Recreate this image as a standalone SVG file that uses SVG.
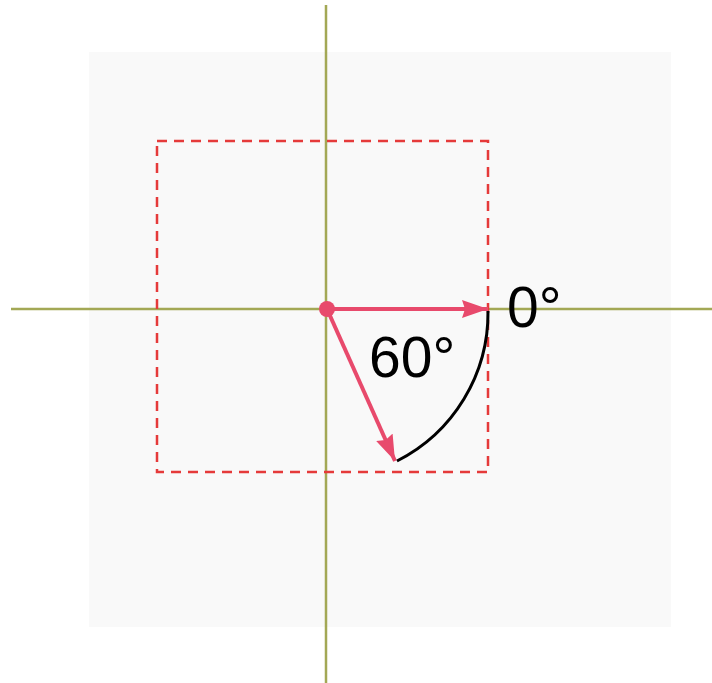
<svg xmlns="http://www.w3.org/2000/svg" width="712" height="683" viewBox="0 0 712 683">
  <style>
    .axis { stroke: #a3a855; stroke-width: 2.5; fill: none; }
    .frame { stroke: #e53a3a; stroke-width: 2.5; stroke-dasharray: 10 7; fill: none; }
    .vec { stroke: #e84a6c; stroke-width: 4; fill: none; }
    .arc { stroke: #000; stroke-width: 3; fill: none; }
    .lbl { font-family: "Liberation Sans", Arial, sans-serif; font-size: 57px; fill: #000; }
  </style>
  <defs>
    <marker id="ah" markerUnits="userSpaceOnUse" markerWidth="28" markerHeight="20" refX="26" refY="9" orient="auto">
      <path d="M0,0 L26,9 L0,18 L3,9 Z" fill="#e84a6c"/>
    </marker>
  </defs>
  <rect x="89" y="52" width="582" height="575" fill="#f9f9f9"/>
  <g id="axes">
    <line class="axis" x1="11" y1="309" x2="712" y2="309"/>
    <line class="axis" x1="326" y1="5" x2="326" y2="683"/>
  </g>
  <g id="frame">
    <rect class="frame" x="157" y="141" width="331" height="331"/>
  </g>
  <g id="connectors">
    <line class="vec" x1="327" y1="309" x2="488" y2="309" marker-end="url(#ah)"/>
    <line class="vec" x1="327" y1="309" x2="395" y2="461" marker-end="url(#ah)"/>
    <path class="arc" d="M488,311 A166,166 0 0 1 397,461"/>
  </g>
  <g id="origin">
    <circle cx="327" cy="309" r="8" fill="#e84a6c"/>
  </g>
  <g id="label-0">
    <text class="lbl" x="507" y="327">0°</text>
  </g>
  <g id="label-60">
    <text class="lbl" x="369" y="377">60°</text>
  </g>
</svg>
